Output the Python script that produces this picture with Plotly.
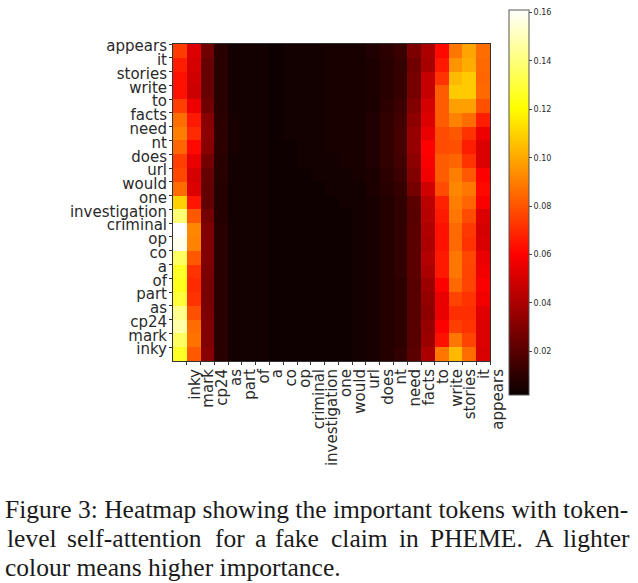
import plotly.graph_objects as go

x_tokens = ["inky","mark","cp24","as","part","of","a","co","op","criminal","investigation","one","would","url","does","nt","need","facts","to","write","stories","it","appears"]
y_tokens = ["appears","it","stories","write","to","facts","need","nt","does","url","would","one","investigation","criminal","op","co","a","of","part","as","cp24","mark","inky"]

# column values, listed from the top row to the bottom row
col_00 = [.074,.067,.064,.064,.075,.086,.090,.084,.075,.077,.086,.110,.139,.161,.158,.136,.127,.125,.130,.143,.147,.136,.127]
col_01 = [.052,.050,.049,.048,.056,.066,.070,.062,.055,.050,.052,.065,.081,.092,.091,.081,.072,.070,.072,.079,.086,.087,.081]
col_02 = [.026,.024,.024,.024,.026,.032,.033,.032,.027,.024,.023,.023,.027,.030,.030,.030,.029,.028,.028,.029,.030,.030,.032]
col_03 = [.009,.009,.009,.009,.009,.010,.010,.010,.009,.009,.008,.008,.008,.009,.009,.009,.009,.009,.009,.009,.009,.009,.009]
col_04 = [.004,.004,.004,.004,.004,.005,.005,.005,.004,.004,.004,.004,.004,.004,.004,.004,.004,.004,.004,.004,.004,.004,.004]
col_05 = [.004,.004,.004,.004,.004,.004,.004,.004,.004,.004,.004,.004,.004,.004,.004,.004,.004,.004,.004,.004,.004,.004,.004]
col_06 = [.004,.004,.004,.004,.004,.004,.004,.004,.004,.004,.004,.004,.004,.004,.004,.004,.004,.004,.004,.004,.004,.004,.004]
col_07 = [.003,.003,.003,.003,.003,.003,.003,.003,.003,.003,.003,.003,.003,.003,.003,.003,.003,.003,.003,.003,.003,.003,.003]
col_08 = [.004,.004,.004,.004,.004,.004,.004,.003,.003,.003,.003,.003,.003,.003,.003,.003,.003,.003,.003,.003,.003,.003,.003]
col_09 = [.004,.004,.004,.004,.004,.004,.004,.004,.004,.003,.003,.003,.003,.003,.003,.003,.003,.003,.003,.003,.003,.003,.003]
col_10 = [.004,.004,.004,.004,.004,.004,.004,.004,.004,.004,.003,.003,.003,.003,.003,.003,.003,.003,.003,.003,.003,.003,.003]
col_11 = [.005,.005,.005,.005,.005,.005,.005,.005,.004,.004,.004,.003,.003,.003,.003,.003,.003,.003,.003,.003,.003,.003,.003]
col_12 = [.005,.005,.005,.005,.005,.005,.005,.005,.005,.004,.004,.004,.003,.003,.003,.003,.003,.003,.003,.003,.003,.003,.003]
col_13 = [.005,.005,.005,.005,.005,.005,.005,.005,.005,.005,.004,.004,.004,.004,.004,.004,.004,.004,.004,.004,.004,.004,.004]
col_14 = [.007,.006,.006,.006,.006,.007,.007,.007,.007,.006,.006,.005,.005,.005,.005,.005,.005,.005,.005,.005,.005,.005,.005]
col_15 = [.010,.009,.009,.009,.010,.011,.011,.011,.011,.010,.009,.008,.008,.008,.008,.008,.008,.008,.008,.008,.008,.008,.008]
col_16 = [.013,.012,.012,.012,.014,.015,.016,.016,.015,.014,.012,.011,.011,.011,.011,.011,.011,.010,.010,.010,.010,.010,.011]
col_17 = [.029,.026,.027,.027,.030,.033,.035,.035,.033,.030,.027,.021,.020,.021,.021,.021,.021,.020,.020,.020,.020,.020,.021]
col_18 = [.040,.039,.046,.046,.050,.052,.055,.060,.059,.057,.049,.044,.043,.041,.040,.042,.040,.036,.034,.033,.035,.036,.040]
col_19 = [.062,.066,.072,.082,.082,.082,.078,.078,.082,.082,.078,.068,.066,.064,.064,.066,.066,.060,.055,.055,.060,.064,.088]
col_20 = [.088,.095,.104,.108,.098,.091,.081,.079,.084,.090,.092,.090,.088,.085,.085,.088,.088,.085,.076,.071,.075,.088,.104]
col_21 = [.099,.101,.108,.108,.098,.086,.072,.067,.072,.081,.088,.084,.078,.073,.072,.077,.076,.076,.072,.071,.072,.076,.086]
col_22 = [.086,.085,.084,.085,.079,.067,.056,.052,.052,.060,.062,.059,.052,.050,.051,.055,.057,.059,.057,.053,.052,.052,.051]

columns = [col_00,col_01,col_02,col_03,col_04,col_05,col_06,col_07,col_08,col_09,col_10,col_11,
           col_12,col_13,col_14,col_15,col_16,col_17,col_18,col_19,col_20,col_21,col_22]

caption_line_1 = "Figure 3: Heatmap showing the important tokens with token-"
caption_line_2 = ["level","self-attention","for","a","fake","claim","in","PHEME.","A","lighter"]
caption_line_3 = "colour means higher importance."

W, H = 638, 583
n = len(x_tokens)
rows = [[c[r] for c in columns] for r in range(n)]
text_col = "#2a2a2a"

fig = go.Figure(go.Heatmap(
    z=rows,
    x=[i + 0.5 for i in range(n)],
    y=[n - r - 0.5 for r in range(n)],
    zmin=0.002, zmax=0.161, zsmooth=False, hoverongaps=False,
    colorscale=[[0, "#0b0000"], [0.365, "#ff0000"], [0.746, "#ffff00"], [1, "#ffffff"]],
    colorbar=dict(
        x=509 / W, xanchor="left", xpad=0,
        y=1 - 10 / H, yanchor="top", ypad=0,
        thickness=20, thicknessmode="pixels",
        len=385, lenmode="pixels",
        tick0=0.02, dtick=0.02, tickformat=".2f",
        ticks="outside", ticklen=3, tickwidth=1, tickcolor="#444",
        tickfont=dict(family="DejaVu Sans", size=8, color=text_col),
        outlinecolor="#555", outlinewidth=1,
    ),
))

fig.update_layout(
    width=W, height=H, margin=dict(l=0, r=0, t=0, b=0),
    paper_bgcolor="white", plot_bgcolor="white", showlegend=False,
    font=dict(family="DejaVu Sans", color=text_col),
    xaxis=dict(
        domain=[173 / W, 490 / W], range=[0, n], autorange=False,
        tickmode="array", tickvals=list(range(1, n + 1)), ticktext=x_tokens,
        tickangle=-90, ticklabelshift=8, ticklabelstandoff=-2,
        ticks="outside", ticklen=3, tickwidth=1, tickcolor="#333",
        tickfont=dict(family="DejaVu Sans", size=15, color=text_col),
        showgrid=False, zeroline=False, showline=True, mirror=True, linecolor="#333", linewidth=1,
        automargin=False,
    ),
    yaxis=dict(
        domain=[1 - 361 / H, 1 - 44 / H], range=[0, n], autorange=False,
        tickmode="array", tickvals=[n - r for r in range(n)], ticktext=y_tokens,
        ticklabelshift=2, ticklabelstandoff=-1,
        ticks="outside", ticklen=3, tickwidth=1, tickcolor="#333",
        tickfont=dict(family="DejaVu Sans", size=15, color=text_col),
        showgrid=False, zeroline=False, showline=True, mirror=True, linecolor="#333", linewidth=1,
        automargin=False,
    ),
)

serif = dict(family="Liberation Serif", size=25.5, color="#1a1a1a")
def note(text, px, py):
    fig.add_annotation(text=text, xref="paper", yref="paper", x=px / W, y=1 - py / H,
                       xanchor="left", yanchor="middle", showarrow=False, font=serif,
                       borderpad=0, borderwidth=0)

note(caption_line_1, 5, 509)
for word, px in zip(caption_line_2, [7, 67, 215, 255, 275, 331, 399, 430, 535, 563]):
    note(word, px, 538)
note(caption_line_3, 5, 567)

fig.write_html("out.html", config=dict(displayModeBar=False),
               post_script="document.body.style.margin='0';")
